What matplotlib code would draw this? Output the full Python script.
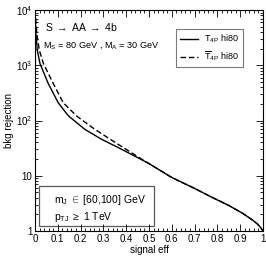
import numpy as np
import matplotlib.pyplot as plt
from matplotlib.patches import Rectangle
from matplotlib.ticker import MultipleLocator, LogLocator, NullFormatter

plt.rcParams['font.family'] = ['Liberation Sans', 'DejaVu Sans']
plt.rcParams['mathtext.fontset'] = 'custom'
plt.rcParams['mathtext.rm'] = 'Liberation Sans'
plt.rcParams['mathtext.it'] = 'Liberation Sans:italic'

# solid: T_4P hi80
eff_t = [0.0, 0.004, 0.01, 0.022, 0.058, 0.102, 0.146, 0.219, 0.292, 0.365, 0.44, 0.50,
         0.60, 0.70, 0.78, 0.85, 0.91, 0.95, 0.975, 0.99, 1.0]
rej_t = [10000, 3700, 1860, 1070, 468, 209, 122, 69, 45.7, 32.4, 22.4, 16.6,
         9.3, 5.9, 4.0, 2.9, 2.1, 1.62, 1.35, 1.15, 1.0]

# dashed: T4P-bar hi80
eff_tb = [0.0, 0.008, 0.019, 0.037, 0.08, 0.124, 0.183, 0.263, 0.329, 0.387, 0.45, 0.50,
          0.60, 0.70, 0.78, 0.85, 0.91, 0.95, 0.975, 0.99, 1.0]
rej_tb = [10000, 3700, 1860, 1070, 468, 209, 120, 69, 46, 32.4, 22.2, 16.6,
          9.3, 5.9, 4.0, 2.9, 2.1, 1.62, 1.35, 1.15, 1.0]

fig = plt.figure(figsize=(2.66, 2.62), dpi=100)
ax = fig.add_axes([0.1316, 0.1183, 0.8571, 0.8435])

ax.plot(eff_t, rej_t, color='black', lw=1.0, ls='-', label=r'$\mathrm{T_{4P}}$ hi80')
ax.plot(eff_tb, rej_tb, color='black', lw=1.0, ls=(0, (4, 2)),
        label=r'$\overline{\mathrm{T}}_{\mathrm{4P}}$ hi80')

ax.set_yscale('log')
ax.set_xlim(0, 1)
ax.set_ylim(1, 1e4)
ax.set_xticks(np.arange(0, 1.01, 0.1))
ax.set_xticklabels(['0', '0.1', '0.2', '0.3', '0.4', '0.5', '0.6', '0.7', '0.8', '0.9', '1'])
ax.xaxis.set_minor_locator(MultipleLocator(0.02))
ax.set_yticks([1, 10, 100, 1000, 10000])
ax.set_yticklabels(['1', '10', r'$10^2$', r'$10^3$', r'$10^4$'])
ax.yaxis.set_minor_locator(LogLocator(base=10, subs=np.arange(2, 10), numticks=20))
ax.yaxis.set_minor_formatter(NullFormatter())
ax.tick_params(which='both', direction='in', top=True, right=True, labelsize=7, pad=2)
ax.tick_params(which='major', length=5, width=0.6)
ax.tick_params(which='minor', length=2.5, width=0.6)
for s in ax.spines.values():
    s.set_linewidth(0.8)

ax.set_xlabel('signal eff', fontsize=7, labelpad=1)
ax.set_ylabel('bkg rejection', fontsize=7, labelpad=1)

ax.text(0.044, 0.905, r'S $\rightarrow$ AA $\rightarrow$ 4b', transform=ax.transAxes, fontsize=7.5)
ax.text(0.036, 0.83, r'M$_\mathrm{S}$ = 80 GeV , M$_\mathrm{A}$ = 30 GeV',
        transform=ax.transAxes, fontsize=6.6)

leg = ax.legend(loc='upper right', bbox_to_anchor=(0.93, 0.935), fontsize=6.5,
                frameon=True, fancybox=False, handlelength=2.0, borderpad=0.45,
                labelspacing=0.45, handletextpad=0.6)
leg.get_frame().set_edgecolor('0.35')
leg.get_frame().set_linewidth(0.8)

ax.add_patch(Rectangle((0.018, 0.023), 0.502, 0.181, transform=ax.transAxes,
                       fill=False, edgecolor='0.35', lw=0.9))
ax.text(0.085, 0.14, r'm$_\mathrm{J}$ $\in$ [60,100] GeV', transform=ax.transAxes,
        fontsize=7.5, va='center')
ax.text(0.085, 0.065, r'p$_\mathrm{TJ}$ $\geq$ 1 TeV', transform=ax.transAxes,
        fontsize=7.5, va='center')

fig.savefig('out.png', dpi=100)
